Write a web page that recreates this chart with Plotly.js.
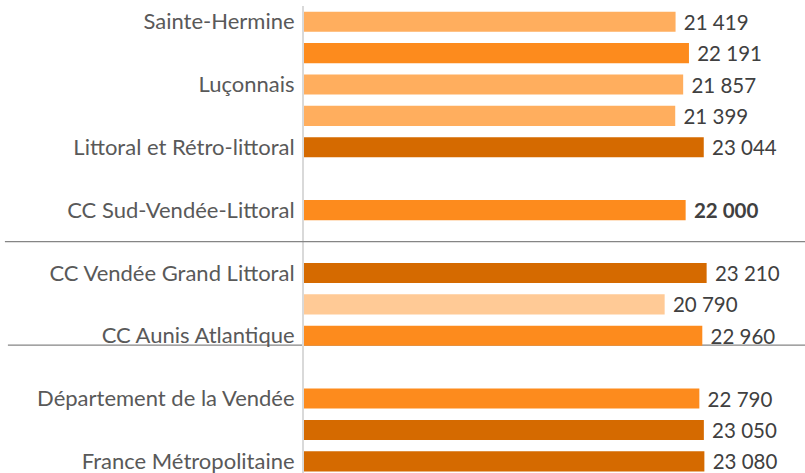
<!DOCTYPE html>
<html>
<head>
<meta charset="utf-8">
<script src="https://cdn.plot.ly/plotly-3.0.1.min.js"></script>
<style>html,body{margin:0;padding:0;background:#fff;}#chart{width:805px;height:473px;}</style>
</head>
<body>
<div id="chart"></div>
<script>
// Categories, top to bottom (blank strings = unlabelled rows / gaps)
const categories = [
  "Sainte-Hermine", " ", "Luçonnais", "  ", "Littoral et Rétro-littoral",
  "   ", "CC Sud-Vendée-Littoral", "    ",
  "CC Vendée Grand Littoral", "     ", "CC Aunis Atlantique",
  "      ", "Département de la Vendée", "       ", "France Métropolitaine"
];
const values = [21419, 22191, 21857, 21399, 23044, null, 22000, null,
                23210, 20790, 22960, null, 22790, 23050, 23080];
const shade = ["light", "medium", "light", "light", "dark", null, "medium", null,
               "dark", "lightest", "medium", null, "medium", "dark", "dark"];
const boldRows = ["CC Sud-Vendée-Littoral"];

const palette = {lightest: "#FFCA96", light: "#FFAE5E", medium: "#FD8B1D", dark: "#D56A00"};
const fmt = v => v == null ? "" : String(v).replace(/\B(?=(\d{3})+(?!\d))/g, " ");
const texts = values.map((v, i) => {
  const s = fmt(v);
  return boldRows.includes(categories[i]) ? "<b>" + s + "</b>" : s;
});

const FONT = "Lato, 'Open Sans', sans-serif";

const trace = {
  type: "bar",
  orientation: "h",
  y: categories,
  x: values,
  marker: {color: shade.map(s => s ? palette[s] : "rgba(0,0,0,0)")},
  width: 0.64,
  text: texts.map(t => " " + t),
  textposition: "outside",
  constraintext: "none",
  cliponaxis: false,
  textfont: {family: FONT, size: 20.5, color: "#404040"},
  hoverinfo: "skip"
};

const layout = {
  width: 805, height: 473,
  margin: {l: 304, r: 0, t: 6, b: 0},
  paper_bgcolor: "#fff", plot_bgcolor: "#fff",
  showlegend: false,
  xaxis: {range: [0, 28880], visible: false, fixedrange: true},
  yaxis: {
    type: "category",
    range: [14.37, -0.5],
    showline: true, linecolor: "#D9D9D9", linewidth: 2,
    showgrid: false, zeroline: false, ticks: "",
    ticklabelstandoff: 3,
    tickfont: {family: FONT, size: 22, color: "#595959"},
    fixedrange: true
  },
  shapes: [
    {type: "line", xref: "paper", yref: "y", x0: -0.597, x1: 1, y0: 7, y1: 7,
     line: {color: "#858585", width: 1.3}, layer: "above"},
    {type: "line", xref: "paper", yref: "y", x0: -0.591, x1: 1, y0: 10.3, y1: 10.3,
     line: {color: "#858585", width: 1.3}, layer: "below"}
  ]
};

Plotly.newPlot("chart", [trace], layout, {staticPlot: true, displayModeBar: false});
</script>
</body>
</html>
